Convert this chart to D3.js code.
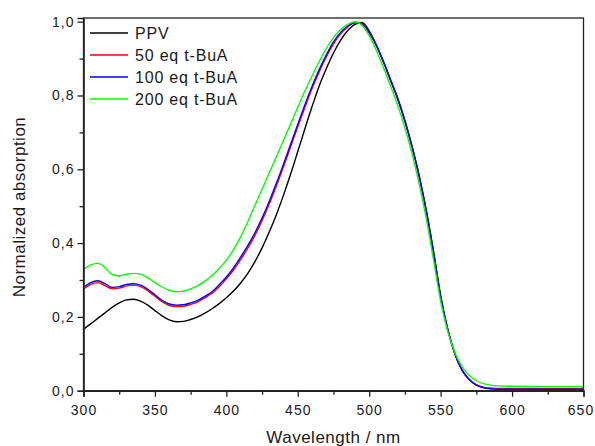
<!DOCTYPE html>
<html>
<head>
<meta charset="utf-8">
<script src="https://cdn.jsdelivr.net/npm/d3@7"></script>
<style>
  body { margin: 0; background: #fff; }
  text { font-family: "Liberation Sans", Arial, sans-serif; fill: #1a1a1a; }
</style>
</head>
<body>
<div id="chart"></div>
<script>
const WIDTH = 595
const HEIGHT = 446

// wavelength grid (nm)
const wavelengths = [300, 305, 310, 315, 320, 325, 330, 335, 340, 345, 350, 355, 360, 365, 370, 375, 380, 385, 390, 395,
  400, 405, 410, 415, 420, 425, 430, 435, 440, 445, 450, 455, 460, 465, 470, 475, 480, 485, 490, 495,
  500, 505, 510, 515, 520, 525, 530, 535, 540, 545, 550, 555, 560, 565, 570, 575, 580, 585, 590, 600, 625, 650]

const ppv = [0.167, 0.181, 0.196, 0.211, 0.226, 0.238, 0.246, 0.248, 0.243, 0.232, 0.217, 0.203, 0.192, 0.187, 0.188, 0.193, 0.200, 0.210, 0.222, 0.236,
  0.252, 0.270, 0.292, 0.318, 0.350, 0.387, 0.430, 0.477, 0.530, 0.587, 0.648, 0.710, 0.770, 0.826, 0.873, 0.915, 0.950, 0.976, 0.993, 0.998,
  0.975, 0.937, 0.892, 0.842, 0.792, 0.732, 0.662, 0.582, 0.487, 0.377, 0.257, 0.166, 0.100, 0.056, 0.030, 0.016, 0.009, 0.006, 0.005, 0.005, 0.005, 0.005]

const eq50 = [0.275, 0.288, 0.293, 0.285, 0.276, 0.278, 0.284, 0.286, 0.282, 0.271, 0.256, 0.241, 0.231, 0.228, 0.229, 0.234, 0.241, 0.252, 0.264, 0.282,
  0.303, 0.327, 0.355, 0.386, 0.421, 0.461, 0.506, 0.555, 0.607, 0.661, 0.715, 0.768, 0.819, 0.864, 0.905, 0.940, 0.967, 0.986, 0.997, 0.995,
  0.971, 0.936, 0.891, 0.841, 0.791, 0.731, 0.661, 0.581, 0.486, 0.376, 0.256, 0.166, 0.100, 0.056, 0.031, 0.016, 0.009, 0.007, 0.006, 0.006, 0.006, 0.006]

const eq100 = [0.280, 0.293, 0.298, 0.290, 0.280, 0.282, 0.288, 0.290, 0.286, 0.275, 0.260, 0.245, 0.235, 0.232, 0.233, 0.238, 0.245, 0.256, 0.268, 0.287,
  0.308, 0.333, 0.362, 0.393, 0.428, 0.468, 0.513, 0.562, 0.614, 0.668, 0.722, 0.775, 0.825, 0.870, 0.910, 0.945, 0.971, 0.988, 0.998, 0.994,
  0.970, 0.935, 0.890, 0.840, 0.790, 0.730, 0.660, 0.580, 0.485, 0.375, 0.255, 0.165, 0.099, 0.055, 0.030, 0.015, 0.008, 0.005, 0.004, 0.004, 0.004, 0.004]

const eq200 = [0.329, 0.341, 0.345, 0.334, 0.315, 0.311, 0.316, 0.318, 0.316, 0.306, 0.293, 0.281, 0.272, 0.268, 0.270, 0.276, 0.285, 0.297, 0.312, 0.331,
  0.354, 0.382, 0.417, 0.458, 0.502, 0.546, 0.590, 0.634, 0.678, 0.723, 0.768, 0.812, 0.853, 0.892, 0.928, 0.957, 0.979, 0.993, 1.000, 0.990,
  0.962, 0.922, 0.875, 0.825, 0.773, 0.712, 0.642, 0.560, 0.465, 0.355, 0.242, 0.160, 0.103, 0.065, 0.041, 0.027, 0.019, 0.015, 0.013, 0.012, 0.011, 0.011]

const seriesNames = ["PPV", "50 eq t-BuA", "100 eq t-BuA", "200 eq t-BuA"]
const seriesColors = ["#000000", "#ff0000", "#0000ff", "#00ff00"]
const seriesValues = [ppv, eq50, eq100, eq200]

const xTicks = [300, 350, 400, 450, 500, 550, 600, 650]
const yTicks = [0, 0.2, 0.4, 0.6, 0.8, 1.0]

const margin = {left: 83.5, top: 18, right: WIDTH - 583.5, bottom: HEIGHT - 390.7}
const plotW = WIDTH - margin.left - margin.right
const plotH = HEIGHT - margin.top - margin.bottom

const x = d3.scaleLinear().domain([300, 650]).range([0, plotW])
const y = d3.scaleLinear().domain([0, 1.01]).range([plotH, 0])

const svg = d3.select("#chart")
  .append("svg")
  .attr("width", WIDTH)
  .attr("height", HEIGHT)

const g = svg.append("g")
  .attr("transform", `translate(${margin.left},${margin.top})`)

const commaFmt = d => d3.format(".1f")(d).replace(".", ",")

// curves
const line = d3.line()
  .x(d => x(d[0]))
  .y(d => y(d[1]))
  .curve(d3.curveMonotoneX)

seriesValues.forEach((vals, i) => {
  g.append("path")
    .datum(wavelengths.map((w, j) => [w, vals[j]]))
    .attr("fill", "none")
    .attr("stroke", seriesColors[i])
    .attr("stroke-width", 1.4)
    .attr("d", line)
})

// frame (top and right)
g.append("rect")
  .attr("x", 0).attr("y", 0)
  .attr("width", plotW).attr("height", plotH)
  .attr("fill", "none")
  .attr("stroke", "#222")
  .attr("stroke-width", 1.3)

// minor ticks
g.append("g")
  .attr("transform", `translate(0,${plotH})`)
  .call(d3.axisBottom(x).tickValues(d3.range(325, 650, 50)).tickSize(4).tickFormat(""))
  .call(a => a.select(".domain").remove())
g.append("g")
  .call(d3.axisLeft(y).tickValues([0.1, 0.3, 0.5, 0.7, 0.9]).tickSize(4).tickFormat(""))
  .call(a => a.select(".domain").remove())

// major axes
const xAxis = g.append("g")
  .attr("transform", `translate(0,${plotH})`)
  .call(d3.axisBottom(x).tickValues(xTicks).tickSize(6).tickPadding(8).tickFormat(d3.format("d")))
const yAxis = g.append("g")
  .call(d3.axisLeft(y).tickValues(yTicks).tickSize(6).tickPadding(3).tickFormat(commaFmt))

;[xAxis, yAxis].forEach(a => {
  a.select(".domain").attr("stroke", "#222").attr("stroke-width", 1.6)
  a.selectAll("text")
    .attr("font-size", 14)
    .attr("letter-spacing", 1)
    .attr("fill", "#1a1a1a")
})
xAxis.selectAll("text").filter(d => d === 650).attr("dx", -3)
g.selectAll(".tick line").attr("stroke", "#222").attr("stroke-width", 1.3)

// axis titles
svg.append("text")
  .attr("x", margin.left + plotW / 2)
  .attr("y", 443)
  .attr("text-anchor", "middle")
  .attr("font-size", 17)
  .attr("letter-spacing", 0.5)
  .text("Wavelength / nm")

svg.append("text")
  .attr("transform", `translate(25,207) rotate(-90)`)
  .attr("text-anchor", "middle")
  .attr("font-size", 17)
  .attr("letter-spacing", 0.5)
  .text("Normalized absorption")

// legend
const legend = svg.append("g")
  .attr("transform", "translate(90,33)")

seriesNames.forEach((name, i) => {
  const row = legend.append("g").attr("transform", `translate(0,${i * 22})`)
  row.append("line")
    .attr("x1", 0).attr("x2", 38)
    .attr("stroke", seriesColors[i])
    .attr("stroke-width", 1.4)
  row.append("text")
    .attr("x", 45)
    .attr("dy", "0.36em")
    .attr("font-size", 16)
    .attr("letter-spacing", 0.8)
    .text(name)
})
</script>
</body>
</html>
